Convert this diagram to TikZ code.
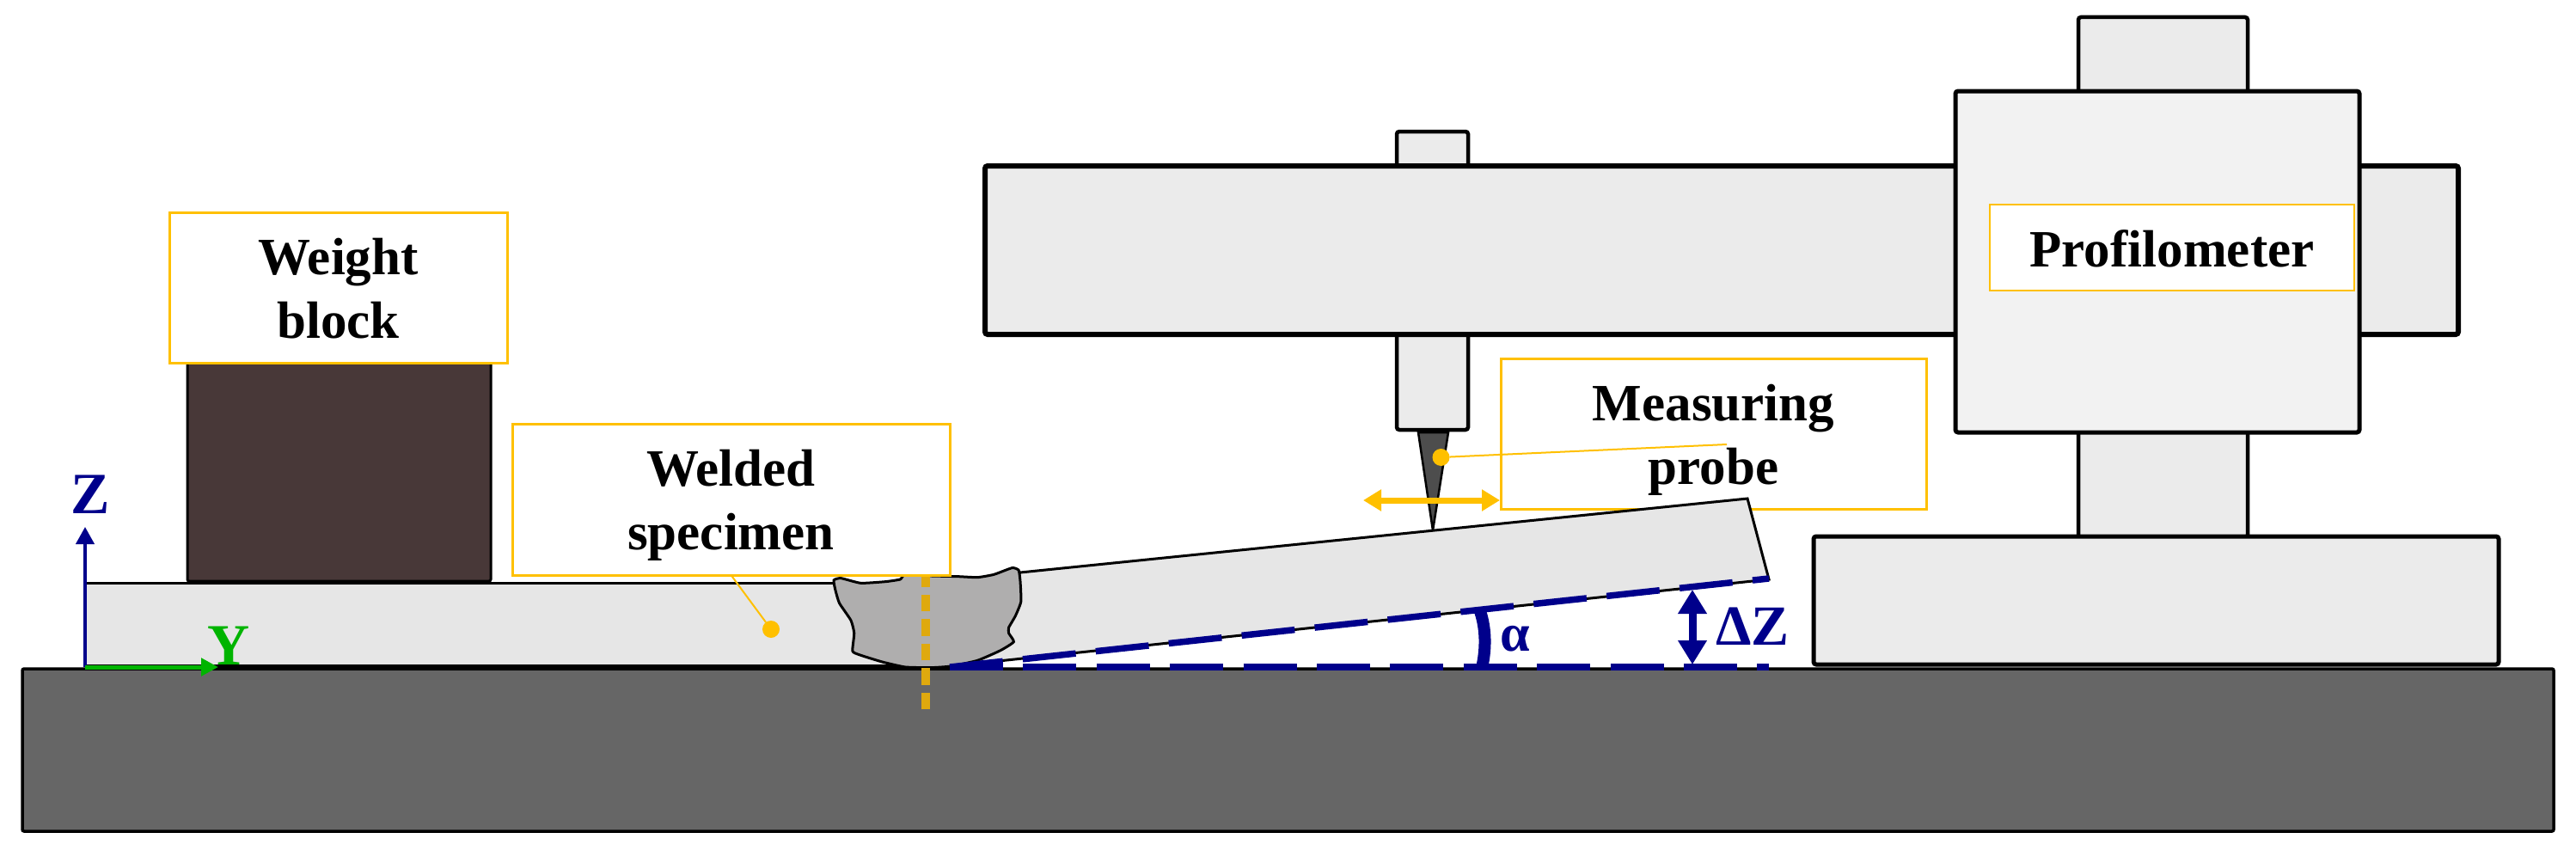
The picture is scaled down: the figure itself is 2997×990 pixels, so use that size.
\documentclass[tikz,border=0pt]{standalone}
\usepackage{fontspec}
\setmainfont{Liberation Serif}
\usetikzlibrary{arrows.meta}
\definecolor{basegrey}{HTML}{666666}
\definecolor{partgrey}{HTML}{EBEBEB}
\definecolor{headgrey}{HTML}{F2F2F2}
\definecolor{specgrey}{HTML}{E6E6E6}
\definecolor{weldgrey}{HTML}{AFAEAE}
\definecolor{blockbrown}{HTML}{483838}
\definecolor{tipgrey}{HTML}{4D4D4D}
\definecolor{labelgold}{HTML}{FFC000}
\definecolor{axisblue}{HTML}{00008B}
\definecolor{axisgreen}{HTML}{00B400}
\definecolor{centregold}{HTML}{DFA90E}
\newcommand{\lbl}[3]{\parbox[c][#2][t]{#1}{\fontsize{61}{74}\selectfont\bfseries\centering\rule{0pt}{72pt}#3}}
\tikzset{
  part/.style={draw=black,line width=5pt,fill=partgrey,rounded corners=3pt},
  labelbox/.style={draw=labelgold,line width=3pt,fill=white,inner sep=0pt,outer sep=0pt,text=black},
  leader/.style={draw=labelgold,line width=2pt},
  golddot/.style={circle,fill=labelgold,inner sep=0pt,outer sep=0pt,minimum size=20pt},
  refline/.style={draw=axisblue,line width=7.5pt,dash pattern=on 62pt off 23.4pt},
  bluetext/.style={text=axisblue,inner sep=0pt,anchor=base,font=\fontsize{66}{70}\selectfont\bfseries}
}
\begin{document}
\begin{tikzpicture}[x=1pt,y=-1pt]
\useasboundingbox (0,0) rectangle (2997,990);
% machine table
\path[draw=black,line width=3.5pt,fill=basegrey,rounded corners=2pt] (26,778) rectangle (2971,967);
% flat part of specimen
\path[fill=specgrey] (99,678) rectangle (1100,775);
\path[draw=black,line width=3pt] (99,678) -- (1000,678);
\path[draw=black,line width=4.5pt] (99,775) -- (1110,775);
% weight block
\path[draw=black,line width=3pt,fill=blockbrown,rounded corners=2pt] (218,400) rectangle (571,676);
% profilometer
\path[part,line width=4.5pt] (2418,20) rectangle (2615,110);
\path[part,line width=4.5pt] (2418,495) rectangle (2615,625);
\path[part] (2110,624) rectangle (2907,773);
\path[part,line width=4.5pt] (1625,153) rectangle (1708,200);
\path[part,line width=4.5pt] (1625,380) rectangle (1708,500);
\path[draw=black,line width=2.5pt,fill=tipgrey] (1650,503) -- (1685,503) -- (1667,617) -- cycle;
\path[part,line width=6pt] (1146,193) rectangle (2860,389);
\path[part,fill=headgrey] (2275,106) rectangle (2745,503);
% measuring label
\node[labelbox,minimum width=495pt,minimum height=175pt] (measuring) at (1993.5,504.5) {\lbl{495pt}{175pt}{Measuring\\probe}};
% tilted specimen
\path[draw=black,line width=3pt,fill=specgrey] (1187,666) -- (2033,580) -- (2058,674) -- (1105,775) -- cycle;
% weld bead
\begin{scope}[shift={(900pt,-520pt)},x=0.3827pt,y=-0.3333pt]
\path[draw=black,line width=3pt,fill=weldgrey] plot[smooth cycle,tension=0.3] coordinates {
(183,465)(205,458)(265,475)(340,470)(385,462)(400,445)(480,450)(560,452)(620,455)(670,445)(725,422)(745,430)(750,470)(752,540)(735,590)(715,630)(715,650)(730,680)(690,710)(620,745)(540,765)(480,770)(400,768)(330,750)(260,725)(240,712)(245,650)(235,605)(200,545)(188,500)};
\end{scope}
% weld centre line
\coordinate (centreBottom) at (1077,825);
\coordinate (centreTop) at (1077,660);
\draw[draw=centregold,line width=10pt,dash pattern=on 19.5pt off 9pt] (centreBottom) -- (centreTop);
% other labels
\node[labelbox,minimum width=393pt,minimum height=175pt] (weight) at (393.5,334.5) {\lbl{393pt}{175pt}{Weight\\block}};
\node[labelbox,minimum width=509pt,minimum height=176pt] (welded) at (850.5,581) {\lbl{509pt}{176pt}{Welded\\specimen}};
\node[labelbox,line width=2.5pt,minimum width=424pt,minimum height=100pt] (profilometer) at (2527,288) {\lbl{424pt}{100pt}{Profilometer}};
% leaders
\node[golddot] (specDot) at (897,732) {};
\node[golddot] (probeDot) at (1676.5,532) {};
\coordinate (probeLeaderEnd) at (2009,517);
\draw[leader] (welded.south) -- (specDot);
\draw[leader] (probeDot) -- (probeLeaderEnd);
% probe travel
\coordinate (travelL) at (1586,582);
\coordinate (travelR) at (1745,582);
\draw[draw=labelgold,line width=7pt,{Triangle[length=21pt,width=24pt]}-{Triangle[length=21pt,width=24pt]}] (travelL) -- (travelR);
% reference lines
\coordinate (hingePt) at (1105,776);
\coordinate (flatEnd) at (2058,776);
\coordinate (tiltEnd) at (2058,673);
\draw[refline] (hingePt) -- (flatEnd);
\draw[refline] (hingePt) -- (tiltEnd);
% angle
\coordinate (angleTop) at (1722,711);
\coordinate (angleBottom) at (1724,777);
\draw[draw=axisblue,line width=14pt] (angleTop) .. controls (1729,732) and (1729,755) .. (angleBottom);
\node[bluetext,font=\fontsize{62}{70}\selectfont\bfseries] (alpha) at (1763,757) {α};
% delta z
\coordinate (dzTop) at (1969,686);
\coordinate (dzBottom) at (1969,773);
\draw[draw=axisblue,line width=9pt,{Triangle[length=28pt,width=32pt]}-{Triangle[length=28pt,width=32pt]}] (dzTop) -- (dzBottom);
\node[bluetext] (dz) at (2039,750) {ΔZ};
% axes
\coordinate (origin) at (99,776);
\coordinate (zEnd) at (99,613);
\coordinate (yEnd) at (254,776);
\draw[draw=axisblue,line width=4pt,-{Triangle[length=20pt,width=21pt]}] (origin) -- (zEnd);
\draw[draw=axisgreen,line width=5pt,-{Triangle[length=20pt,width=20pt]}] (origin) -- (yEnd);
\node[bluetext,font=\fontsize{68}{70}\selectfont\bfseries] (zlabel) at (105,597) {Z};
\node[bluetext,text=axisgreen,font=\fontsize{68}{70}\selectfont\bfseries] (ylabel) at (266,773) {Y};
\end{tikzpicture}
\end{document}
